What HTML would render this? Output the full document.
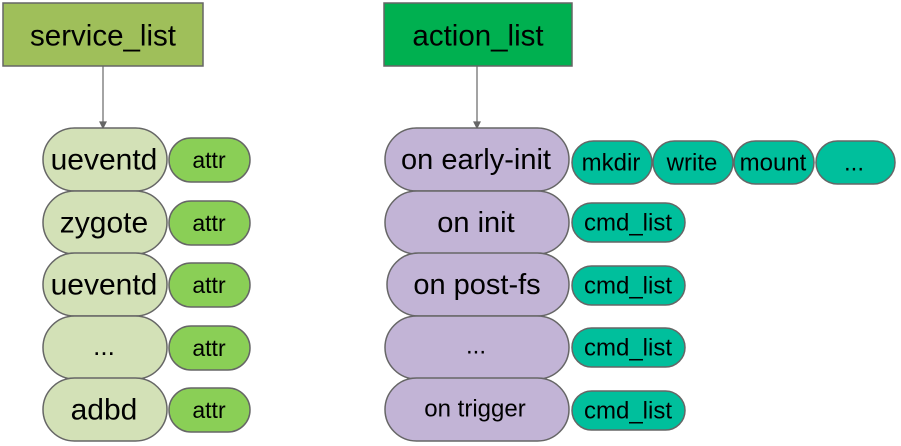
<!DOCTYPE html>
<html><head><meta charset="utf-8"><style>
html,body{margin:0;padding:0;background:#fff;}
svg{display:block;}
text{font-family:"Liberation Sans",Arial,sans-serif;fill:#000;text-anchor:middle;dominant-baseline:central;}
</style></head><body>
<svg width="901" height="446" viewBox="0 0 901 446" xmlns="http://www.w3.org/2000/svg">
<g stroke="#666" stroke-width="1.5">
<rect x="3" y="3" width="200" height="63" fill="#9fbf5a"/>
<rect x="384" y="3" width="188" height="63" fill="#00b050"/>
</g>
<text x="103" y="36" font-size="29.5">service_list</text>
<text x="478" y="36" font-size="29.5">action_list</text>
<g stroke="#666" stroke-width="1.2" fill="#666">
<line x1="103" y1="66" x2="103" y2="124"/><polygon points="100,122 106,122 103,128"/>
<line x1="477" y1="66" x2="477" y2="124"/><polygon points="474,122 480,122 477,128"/>
</g>
<g stroke="#666" stroke-width="1.5" fill="#d3e1b7">
<rect x="43" y="128" width="124" height="63" rx="31.5"/>
<rect x="43" y="191" width="124" height="63" rx="31.5"/>
<rect x="43" y="253" width="124" height="63" rx="31.5"/>
<rect x="43" y="316" width="124" height="63" rx="31.5"/>
<rect x="43" y="378" width="124" height="63" rx="31.5"/>
</g>
<g stroke="#666" stroke-width="1.5" fill="#8acf56">
<rect x="169" y="138" width="81" height="44" rx="22"/>
<rect x="169" y="201" width="81" height="44" rx="22"/>
<rect x="169" y="263" width="81" height="44" rx="22"/>
<rect x="169" y="326" width="81" height="44" rx="22"/>
<rect x="169" y="388" width="81" height="44" rx="22"/>
</g>
<g font-size="30">
<text x="104" y="160">ueventd</text>
<text x="104" y="223">zygote</text>
<text x="104" y="285">ueventd</text>
<text x="104" y="346" font-size="26">...</text>
<text x="104" y="410">adbd</text>
</g>
<g font-size="23">
<text x="209" y="160">attr</text><text x="209" y="223">attr</text><text x="209" y="285">attr</text><text x="209" y="348">attr</text><text x="209" y="410">attr</text>
</g>
<g stroke="#666" stroke-width="1.5" fill="#c2b4d6">
<rect x="385" y="128" width="184" height="63" rx="31.5"/>
<rect x="385" y="191" width="184" height="63" rx="31.5"/>
<rect x="387" y="253" width="182" height="63" rx="31.5"/>
<rect x="385" y="316" width="184" height="63" rx="31.5"/>
<rect x="385" y="378" width="184" height="63" rx="31.5"/>
</g>
<text x="476" y="160" font-size="29">on early-init</text>
<text x="476" y="223" font-size="29">on init</text>
<text x="477" y="285" font-size="29">on post-fs</text>
<text x="476" y="346" font-size="24">...</text>
<text x="475" y="409" font-size="24">on trigger</text>
<g stroke="#666" stroke-width="1.5" fill="#00bf9c">
<rect x="572" y="141" width="80" height="43" rx="21.5"/>
<rect x="653" y="141" width="80" height="43" rx="21.5"/>
<rect x="734" y="141" width="80" height="43" rx="21.5"/>
<rect x="816" y="141" width="79" height="43" rx="21.5"/>
<rect x="572" y="203" width="113" height="39" rx="19.5"/>
<rect x="572" y="266" width="113" height="39" rx="19.5"/>
<rect x="572" y="328" width="113" height="39" rx="19.5"/>
<rect x="572" y="391" width="113" height="39" rx="19.5"/>
</g>
<g font-size="24">
<text x="611" y="163">mkdir</text><text x="692" y="163">write</text><text x="773" y="163">mount</text><text x="854" y="163">...</text>
<text x="628" y="223">cmd_list</text><text x="628" y="286">cmd_list</text><text x="628" y="348">cmd_list</text><text x="628" y="411">cmd_list</text>
</g>
</svg>
</body></html>
